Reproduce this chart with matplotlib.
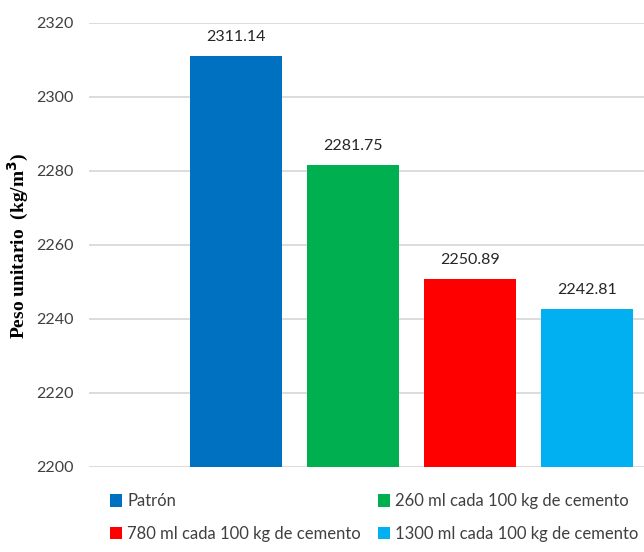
import matplotlib.pyplot as plt

# Peso unitario del concreto según dosis de aditivo
series = ['Patrón',
          '260 ml cada 100 kg de cemento',
          '780 ml cada 100 kg de cemento',
          '1300 ml cada 100 kg de cemento']
valores = [2311.14, 2281.75, 2250.89, 2242.81]
colores = ['#0070C0', '#00B050', '#FF0000', '#00B0F0']
posiciones = [1, 2, 3, 4]

plt.rcParams['font.family'] = ['Lato', 'DejaVu Sans']

fig = plt.figure(figsize=(6.44, 5.52), dpi=100)
ax = fig.add_axes([89 / 644, 1 - 467 / 552, 1 - 89 / 644, (467 - 23) / 552])

barras = []
for x, v, c, s in zip(posiciones, valores, colores, series):
    b = ax.bar(x, v - 2200, bottom=2200, width=0.786, color=c, label=s, zorder=3)
    barras.append(b)
    ax.text(x, v + 3.1, f'{v:.2f}', ha='center', va='bottom',
            fontsize=11.5, color='#262626')

ax.set_ylim(2200, 2320)
ax.set_xlim(-0.256, 4.487)
ax.set_yticks(range(2200, 2321, 20))
ax.set_xticks([])
ax.grid(axis='y', color='#D9D9D9', linewidth=1.3, zorder=0)
for lado in ax.spines.values():
    lado.set_visible(False)
ax.tick_params(axis='y', length=0, pad=11, labelsize=11.5, labelcolor='#404040')

fig.text(18 / 644, 1 - 246 / 552, 'Peso unitario  (kg/m$^\\mathbf{3}$)',
         rotation=90, ha='center', va='center', fontsize=14,
         fontweight='bold', family='Liberation Serif')

# leyenda en dos columnas, orden por filas
orden = [0, 2, 1, 3]
fig.legend([barras[i] for i in orden], [series[i] for i in orden],
           ncol=2, loc='lower left', bbox_to_anchor=(100 / 644, 0.0),
           frameon=False, fontsize=12, handlelength=0.75, handleheight=0.75,
           handletextpad=0.3, columnspacing=1.0, labelspacing=1.0,
           labelcolor='#404040', borderaxespad=0.2)

fig.savefig('out.png', dpi=100)
